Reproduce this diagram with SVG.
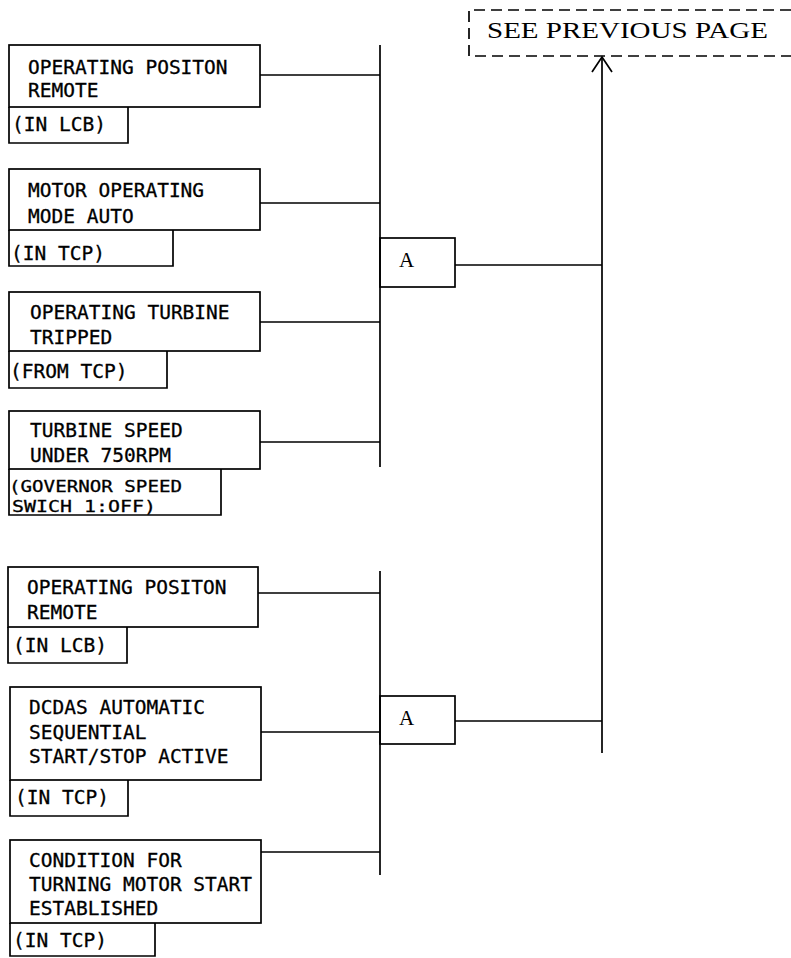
<svg xmlns="http://www.w3.org/2000/svg" width="791" height="958" viewBox="0 0 791 958">
<style>
.b{fill:none;stroke:#000;stroke-width:1.7}
.w{stroke:#000;stroke-width:1.7;fill:none}
.t{font-family:"DejaVu Sans Mono","Liberation Mono",monospace;font-size:19.5px;fill:#000;stroke:#000;stroke-width:0.3}
.sm{font-size:16.5px}
.s{font-family:"Liberation Serif",serif;fill:#000}
.d{fill:none;stroke:#000;stroke-width:1.7;stroke-dasharray:11 6}
</style>
<rect width="791" height="958" fill="#fff"/>
<g id="n1"><rect class="b" x="9" y="45" width="251" height="62"/><path class="b" d="M9 107V143H128V107"/>
<text class="t" x="28" y="74">OPERATING POSITON</text><text class="t" x="28" y="97">REMOTE</text><text class="t" x="12" y="131">(IN LCB)</text></g>
<g id="n2"><rect class="b" x="9" y="169" width="251" height="61"/><path class="b" d="M9 230V266H173V230"/>
<text class="t" x="28" y="197">MOTOR OPERATING</text><text class="t" x="28" y="223">MODE AUTO</text><text class="t" x="11" y="260">(IN TCP)</text></g>
<g id="n3"><rect class="b" x="9" y="292" width="251" height="59"/><path class="b" d="M9 351V388H167V351"/>
<text class="t" x="30" y="319">OPERATING TURBINE</text><text class="t" x="30" y="344">TRIPPED</text><text class="t" x="10" y="378">(FROM TCP)</text></g>
<g id="n4"><rect class="b" x="9" y="411" width="251" height="58"/><path class="b" d="M9 469V515H221V469"/>
<text class="t" x="30" y="437">TURBINE SPEED</text><text class="t" x="30" y="462">UNDER 750RPM</text><text class="t sm" x="9" y="492" textLength="173" lengthAdjust="spacingAndGlyphs">(GOVERNOR SPEED</text><text class="t sm" x="12" y="512" textLength="144" lengthAdjust="spacingAndGlyphs">SWICH 1:OFF)</text></g>
<g id="n5"><rect class="b" x="8" y="567" width="250" height="60"/><path class="b" d="M8 627V663H127V627"/>
<text class="t" x="27" y="594">OPERATING POSITON</text><text class="t" x="27" y="619">REMOTE</text><text class="t" x="13" y="652">(IN LCB)</text></g>
<g id="n6"><rect class="b" x="10" y="687" width="251" height="93"/><path class="b" d="M10 780V816H128V780"/>
<text class="t" x="29" y="714">DCDAS AUTOMATIC</text><text class="t" x="29" y="739">SEQUENTIAL</text><text class="t" x="29" y="763">START/STOP ACTIVE</text><text class="t" x="15" y="804">(IN TCP)</text></g>
<g id="n7"><rect class="b" x="10" y="840" width="251" height="83"/><path class="b" d="M10 923V956H155V923"/>
<text class="t" x="29" y="867">CONDITION FOR</text><text class="t" x="29" y="891">TURNING MOTOR START</text><text class="t" x="29" y="915">ESTABLISHED</text><text class="t" x="13" y="947">(IN TCP)</text></g>
<g id="a1"><rect class="b" x="380" y="238" width="75" height="49"/><text class="s" x="399" y="267" font-size="21">A</text></g>
<g id="a2"><rect class="b" x="380" y="696" width="75" height="48"/><text class="s" x="399" y="725" font-size="21">A</text></g>
<g id="prev"><path class="d" d="M791 10H469V56H791"/><text class="s" x="487" y="38" font-size="23" textLength="281" lengthAdjust="spacingAndGlyphs">SEE PREVIOUS PAGE</text></g>
<g id="connectors">
<path class="w" d="M380 45V467M380 571V875"/>
<path class="w" d="M260 75H380M260 203H380M260 322H380M260 442H380"/>
<path class="w" d="M258 593H380M261 732H380M261 852H380"/>
<path class="w" d="M455 265H602M455 721H602M602 57V753"/>
<path class="w" d="M592 72L602 57L612 72"/>
</g>
</svg>
